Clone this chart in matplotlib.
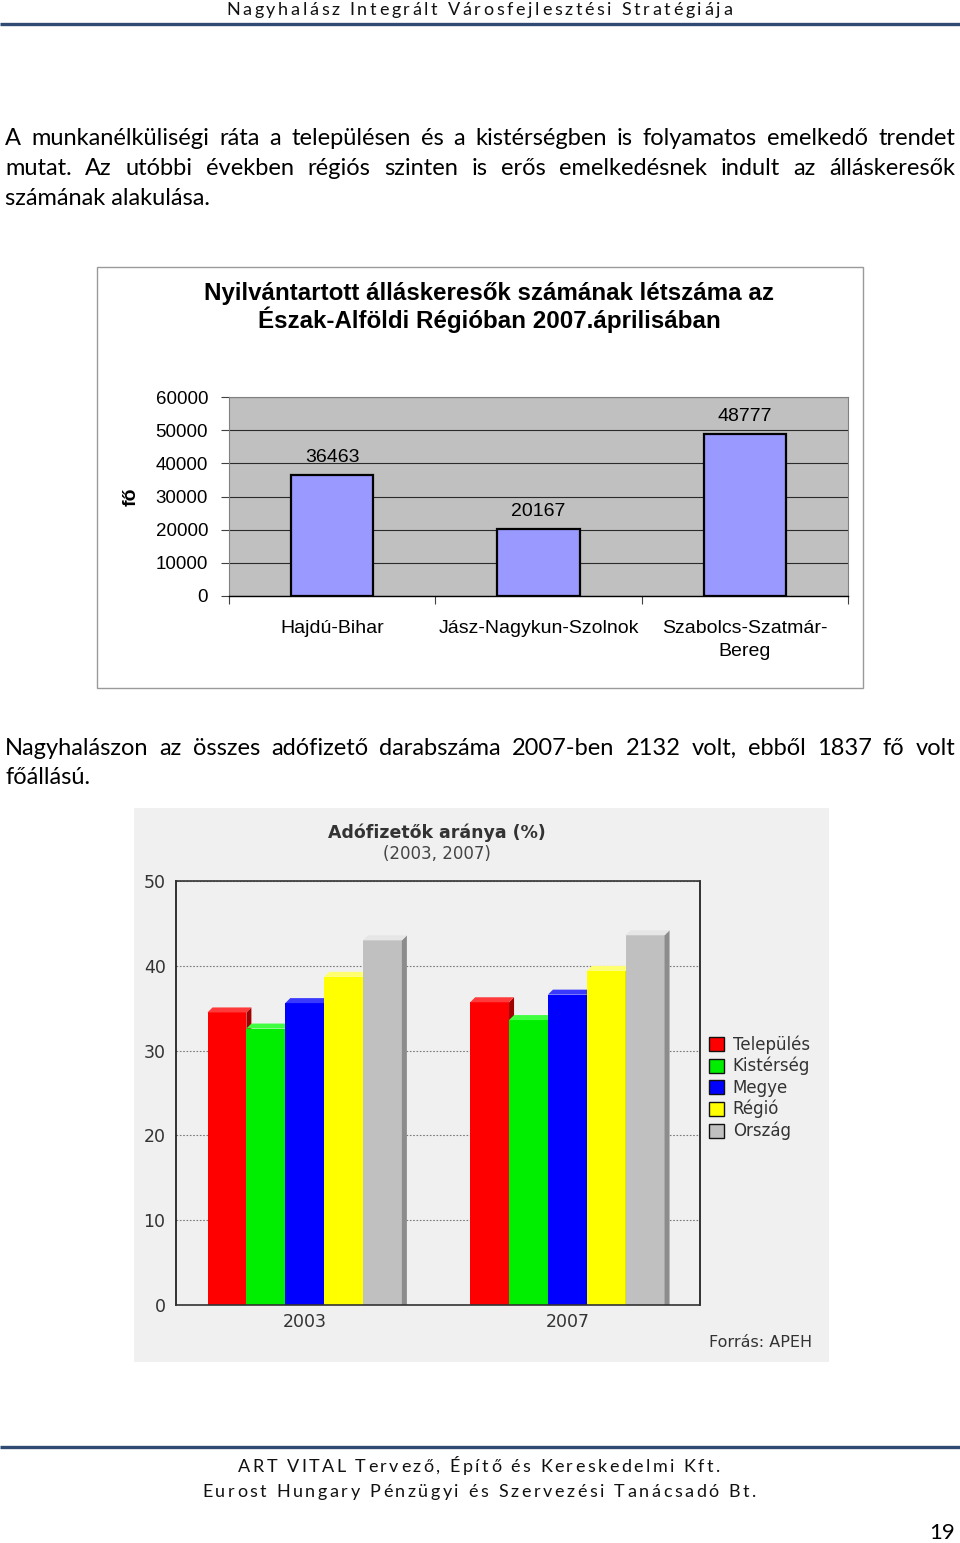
import matplotlib
matplotlib.use('Agg')
import matplotlib.pyplot as plt
from matplotlib.patches import Rectangle, Polygon, Patch
import numpy as np

# ---------------- data ----------------
header_text = "Nagyhalász Integrált Városfejlesztési Stratégiája"
para1_lines = [
    "A munkanélküliségi ráta a településen és a kistérségben is folyamatos emelkedő trendet",
    "mutat. Az utóbbi években régiós szinten is erős emelkedésnek indult az álláskeresők",
    "számának alakulása.",
]
para2_lines = [
    "Nagyhalászon az összes adófizető darabszáma 2007-ben 2132 volt, ebből 1837 fő volt",
    "főállású.",
]
footer_lines = ["ART VITAL Tervező, Építő és Kereskedelmi Kft.",
                "Eurost Hungary Pénzügyi és Szervezési Tanácsadó Bt."]
page_number = "19"

c1_title_lines = ["Nyilvántartott álláskeresők számának létszáma az",
                  "Észak-Alföldi Régióban 2007.áprilisában"]
c1_categories = ["Hajdú-Bihar", "Jász-Nagykun-Szolnok", "Szabolcs-Szatmár-\nBereg"]
c1_values = [36463, 20167, 48777]
c1_yticks = [0, 10000, 20000, 30000, 40000, 50000, 60000]
c1_ylabel = "fő"

c2_title = "Adófizetők aránya (%)"
c2_subtitle = "(2003, 2007)"
c2_years = ["2003", "2007"]
c2_series = ["Település", "Kistérség", "Megye", "Régió", "Ország"]
c2_telepules = [34.5, 35.7]
c2_kisterseg = [32.6, 33.6]
c2_megye = [35.6, 36.6]
c2_regio = [38.7, 39.4]
c2_orszag = [43.0, 43.6]
c2_yticks = [0, 10, 20, 30, 40, 50]
c2_source = "Forrás: APEH"

# ---------------- figure ----------------
W, H = 960, 1543
fig = plt.figure(figsize=(W / 100, H / 100), dpi=100)
fig.patch.set_facecolor('white')
ax0 = fig.add_axes([0, 0, 1, 1])
ax0.set_xlim(0, W)
ax0.set_ylim(H, 0)
ax0.axis('off')
renderer = fig.canvas.get_renderer()

BODY = 'Lato'
ARIAL = 'Liberation Sans'
VERD = 'DejaVu Sans'


def px_rect(x0, y0, x1, y1):
    return [x0 / W, 1 - y1 / H, (x1 - x0) / W, (y1 - y0) / H]


def text_width(s, size, family, weight='normal'):
    t = ax0.text(0, 0, s, fontsize=size, family=family, weight=weight)
    w = t.get_window_extent(renderer).width
    t.remove()
    return w


def fit_size(s, target, family, weight='normal'):
    return 10 * target / text_width(s, 10, family, weight)


def justify(line, x0, x1, y, size, family, color='black'):
    words = line.split()
    widths = [text_width(w, size, family) for w in words]
    gap = (x1 - x0 - sum(widths)) / (len(words) - 1)
    x = x0
    for w, wd in zip(words, widths):
        ax0.text(x, y, w, fontsize=size, family=family, color=color,
                 ha='left', va='baseline')
        x += wd + gap


def spaced(s, x0, x1, y, size, family, color='black'):
    nat = text_width(s, size, family)
    track = (x1 - x0 - nat) / (len(s) - 1)
    bar_w = text_width('|', size, family)
    for i, ch in enumerate(s):
        if ch == ' ':
            continue
        pre = (text_width(s[:i] + '|', size, family) - bar_w) if i > 0 else 0
        ax0.text(x0 + pre + i * track, y, ch, fontsize=size, family=family,
                 color=color, ha='left', va='baseline')


# ---------------- header / footer ----------------
spaced(header_text, 226, 732, 15, 13, BODY, color='#111111')
ax0.plot([0, W], [23.5, 23.5], color='#2f4b74', lw=2.4, solid_capstyle='butt')
ax0.plot([0, W], [1446.5, 1446.5], color='#2f4b74', lw=2.4, solid_capstyle='butt')
spaced(footer_lines[0], 238, 720, 1472, 13, BODY, color='#111111')
spaced(footer_lines[1], 202, 756, 1497, 13, BODY, color='#111111')
ax0.text(955, 1539, page_number, fontsize=16, family=BODY, ha='right', va='baseline')

# ---------------- body text ----------------
bsize = fit_size(para1_lines[2], 206, BODY)
justify(para1_lines[0], 5, 955, 145, bsize, BODY)
justify(para1_lines[1], 5, 955, 175, bsize, BODY)
ax0.text(5, 205, para1_lines[2], fontsize=bsize, family=BODY, va='baseline')
justify(para2_lines[0], 5, 955, 755, bsize, BODY)
ax0.text(5, 784, para2_lines[1], fontsize=bsize, family=BODY, va='baseline')

# ---------------- chart 1 ----------------
ax0.add_patch(Rectangle((97, 267), 766, 421, facecolor='white',
                        edgecolor='#9a9a9a', lw=1.0))
tsize = fit_size(c1_title_lines[0], 569, ARIAL, 'bold')
ax0.text(489, 300, c1_title_lines[0], fontsize=tsize, family=ARIAL,
         weight='bold', ha='center', va='baseline')
ax0.text(489, 328, c1_title_lines[1], fontsize=tsize, family=ARIAL,
         weight='bold', ha='center', va='baseline')

ax1 = fig.add_axes(px_rect(229, 397, 848, 596))
x1 = np.arange(len(c1_values))
ax1.bar(x1, c1_values, width=0.4, color='#9999ff', edgecolor='black',
        linewidth=1.6, zorder=3)
ax1.set_xlim(-0.5, len(c1_values) - 0.5)
ax1.set_ylim(0, 60000)
ax1.set_facecolor('#c0c0c0')
ax1.set_yticks(c1_yticks)
ax1.set_yticklabels([str(v) for v in c1_yticks], fontsize=13.5, family=ARIAL)
ax1.tick_params(axis='y', length=6, width=0.8, color='#404040', pad=9)
ax1.yaxis.grid(True, color='#2a2a2a', linewidth=0.8)
ax1.set_axisbelow(True)
ax1.set_xticks(x1)
ax1.set_xticklabels(c1_categories, fontsize=14, family=ARIAL, linespacing=1.45)
ax1.set_xticks(np.arange(-0.5, len(c1_values), 1.0), minor=True)
ax1.tick_params(axis='x', which='major', length=0, pad=17.5)
ax1.tick_params(axis='x', which='minor', length=6, width=0.8, color='#404040')
for side in ['left', 'top', 'right']:
    ax1.spines[side].set_color('#808080')
    ax1.spines[side].set_linewidth(0.8)
ax1.spines['bottom'].set_color('black')
ax1.spines['bottom'].set_linewidth(1.0)
for xi, v in zip(x1, c1_values):
    ax1.annotate(f"{v}", (xi, v), xytext=(0, 6.5), textcoords='offset points',
                 ha='center', va='bottom', fontsize=14, family=ARIAL)
ax1.set_ylabel(c1_ylabel, fontsize=14, weight='bold', family=ARIAL)
ax1.yaxis.set_label_coords(-(229 - 140) / 619, 0.5)

# ---------------- chart 2 ----------------
ax0.add_patch(Rectangle((134, 808), 695, 554, facecolor='#f0f0f0',
                        edgecolor='none'))
ax0.text(437, 838, c2_title, fontsize=12.5, family=VERD, weight='bold',
         color='#333333', ha='center', va='baseline')
ax0.text(437, 859, c2_subtitle, fontsize=12, family=VERD,
         color='#444444', ha='center', va='baseline')
ax0.text(812, 1347, c2_source, fontsize=11.5, family=VERD,
         color='#333333', ha='right', va='baseline')

ax2 = fig.add_axes(px_rect(176, 881, 700, 1305))
ax2.set_facecolor('#f0f0f0')
ax2.set_xlim(-0.49, 1.505)
ax2.set_ylim(0, 50)

series_vals = [c2_telepules, c2_kisterseg, c2_megye, c2_regio, c2_orszag]
front_cols = ['#ff0000', '#00ee00', '#0000ff', '#ffff00', '#c0c0c0']
side_cols = ['#a00000', '#009000', '#0000a0', '#a8a800', '#8c8c8c']
top_cols = ['#ff3a3a', '#40ff40', '#3a3aff', '#ffff70', '#e6e6e6']
bw = 0.148
dx = 5 / (524 / (1.505 + 0.49))
dy = 5 * 50 / 424
xg = np.arange(len(c2_years))
for i, vals in enumerate(series_vals):
    off = (i - 2) * bw
    z = 10 + 3 * i
    ax2.bar(xg + off, vals, width=bw, color=front_cols[i], linewidth=0, zorder=z)
    for xc, v in zip(xg + off, vals):
        xl, xr = xc - bw / 2, xc + bw / 2
        ax2.add_patch(Polygon([(xr, 0), (xr + dx, 0), (xr + dx, v + dy), (xr, v)],
                              closed=True, facecolor=side_cols[i], lw=0, zorder=z + 1))
        ax2.add_patch(Polygon([(xl, v), (xl + dx, v + dy), (xr + dx, v + dy), (xr, v)],
                              closed=True, facecolor=top_cols[i], lw=0, zorder=z + 2))

ax2.set_yticks(c2_yticks)
ax2.set_yticklabels([str(v) for v in c2_yticks], fontsize=12.5, family=VERD,
                    color='#333333')
ax2.set_xticks(xg)
ax2.set_xticklabels(c2_years, fontsize=12.5, family=VERD, color='#333333')
ax2.tick_params(axis='y', length=0, pad=7.5)
ax2.tick_params(axis='x', length=0, pad=5.5)
ax2.yaxis.grid(True, linestyle=(0, (1.5, 1.5)), color='#7a7a7a', linewidth=0.8)
ax2.set_axisbelow(True)
for side in ['left', 'right']:
    ax2.spines[side].set_color('#222222')
    ax2.spines[side].set_linewidth(1.3)
for side in ['top', 'bottom']:
    ax2.spines[side].set_color('#333333')
    ax2.spines[side].set_linewidth(1.2)
    ax2.spines[side].set_linestyle((0, (1.5, 1)))
ax2.spines['bottom'].set_zorder(40)

handles = [Patch(facecolor=c, edgecolor='#111111', linewidth=1.0) for c in front_cols]
leg = ax2.legend(handles, c2_series, loc='upper left',
                 bbox_to_anchor=(709 / W, 1 - 1035 / H), bbox_transform=fig.transFigure,
                 frameon=False, prop={'family': VERD, 'size': 12},
                 handlelength=0.92, handleheight=0.92, handletextpad=0.5,
                 labelspacing=0.2, borderpad=0, borderaxespad=0)
for t in leg.get_texts():
    t.set_color('#333333')

fig.savefig('out.png', dpi=100, facecolor='white')
